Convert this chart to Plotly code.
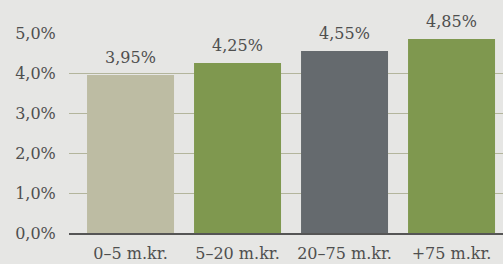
import plotly.graph_objects as go

categories = ["0–5 m.kr.", "5–20 m.kr.", "20–75 m.kr.", "+75 m.kr."]
values = [3.95, 4.25, 4.55, 4.85]
value_labels = ["3,95%", "4,25%", "4,55%", "4,85%"]
colors = ["#bdbca3", "#7f984f", "#656a6e", "#7f984f"]
tick_vals = [0, 1, 2, 3, 4, 5]
tick_text = ["0,0%", "1,0%", "2,0%", "3,0%", "4,0%", "5,0%"]

font_family = "DejaVu Serif"
text_color = "#4f4f4f"

fig = go.Figure()
fig.add_trace(go.Bar(
    x=list(range(len(categories))),
    y=values,
    marker=dict(color=colors, line=dict(width=0)),
    width=0.813,
    hoverinfo="skip",
))

for i, (v, lab) in enumerate(zip(values, value_labels)):
    fig.add_annotation(
        x=i, y=v, text=lab, showarrow=False,
        yanchor="bottom", yshift=6,
        font=dict(family=font_family, size=16, color=text_color),
    )

fig.update_layout(
    width=503, height=264,
    margin=dict(l=69, r=0, t=33, b=31),
    paper_bgcolor="#e6e6e4",
    plot_bgcolor="#e6e6e4",
    showlegend=False,
    font=dict(family=font_family, size=16, color=text_color),
    xaxis=dict(
        range=[-0.575, 3.481],
        tickmode="array",
        tickvals=list(range(len(categories))),
        ticktext=categories,
        showgrid=False,
        showline=True, linecolor="#555555", linewidth=2,
        ticks="outside", ticklen=5, tickcolor="rgba(0,0,0,0)",
        tickfont=dict(family=font_family, size=16, color=text_color),
        fixedrange=True,
    ),
    yaxis=dict(
        range=[0, 5],
        tickmode="array",
        tickvals=tick_vals,
        ticktext=tick_text,
        showgrid=True, gridcolor="#b3b59c", gridwidth=1,
        zeroline=False,
        showline=False,
        ticks="outside", ticklen=9, tickcolor="rgba(0,0,0,0)",
        tickfont=dict(family=font_family, size=16, color=text_color),
        fixedrange=True,
    ),
)

fig.write_html(
    "out.html",
    config={"displayModeBar": False},
    post_script="document.body.style.margin='0';document.body.style.overflow='hidden';",
)
